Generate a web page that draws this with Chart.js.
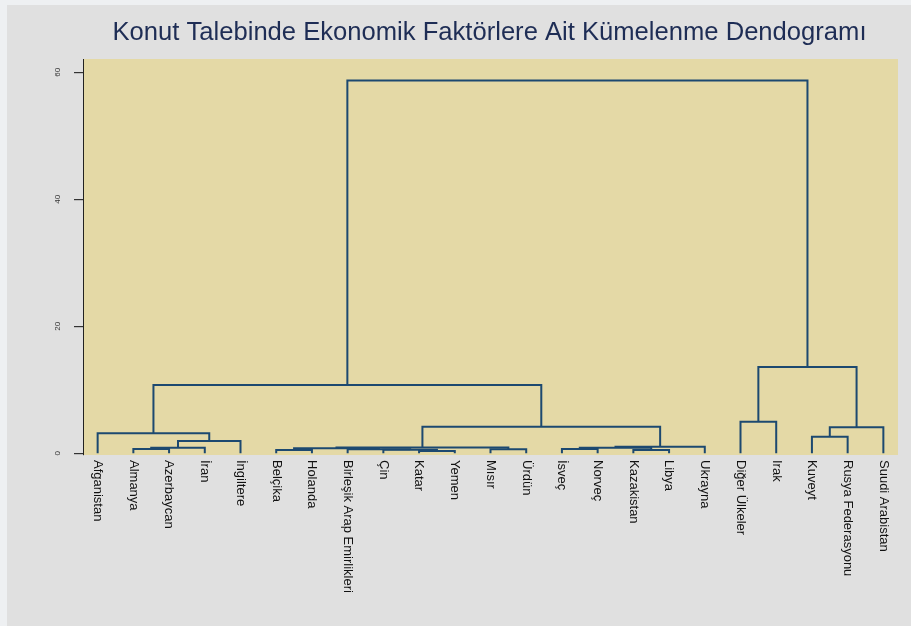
<!DOCTYPE html>
<html>
<head>
<meta charset="utf-8">
<title>Kümelenme Dendogramı</title>
<script src="https://cdn.jsdelivr.net/npm/chart.js@4.4.1/dist/chart.umd.min.js"></script>
<style>
  html, body { margin: 0; padding: 0; background: #eef0f2; }
  #wrap { width: 911px; height: 626px; position: relative; }
</style>
</head>
<body>
<div id="wrap"><canvas id="chart"></canvas></div>
<script>
const chartTitle = "Konut Talebinde Ekonomik Faktörlere Ait Kümelenme Dendogramı";

// leaves in the order they appear on the x axis
const countries = [
  "Afganistan", "Almanya", "Azerbaycan", "İran", "İngiltere",
  "Belçika", "Holanda", "Birleşik Arap Emirlikleri", "Çin", "Katar",
  "Yemen", "Mısır", "Ürdün", "İsveç", "Norveç",
  "Kazakistan", "Libya", "Ukrayna", "Diğer Ülkeler", "Irak",
  "Kuveyt", "Rusya Federasyonu", "Suudi Arabistan"
];

// linkage: ids < 23 are leaves, merge k creates id 23 + k
const mergeLeft   = [9, 5, 15, 8, 11, 7, 1, 13, 24, 29, 30, 31, 33, 32, 20, 0, 37, 34, 18, 38, 41, 42];
const mergeRight  = [10, 6, 16, 23, 12, 26, 2, 14, 28, 3, 25, 27, 17, 4, 21, 36, 22, 35, 19, 40, 39, 43];
const mergeHeight = [0.36, 0.52, 0.52, 0.57, 0.62, 0.65, 0.68, 0.68, 0.79, 0.88, 0.88, 0.91, 1.04, 1.94,
                     2.62, 3.15, 4.09, 4.19, 4.98, 10.76, 13.6, 58.7];

const yTicks = [0, 20, 40, 60];

const lineColor = "#1c4970";

// node positions from the linkage
const nodeX = countries.map((c, i) => i);
const nodeH = countries.map(() => 0);
const datasets = [];
mergeLeft.forEach((a, k) => {
  const b = mergeRight[k];
  const h = mergeHeight[k];
  datasets.push({
    data: [
      { x: nodeX[a], y: nodeH[a] },
      { x: nodeX[a], y: h },
      { x: nodeX[b], y: h },
      { x: nodeX[b], y: nodeH[b] }
    ],
    showLine: true,
    borderColor: lineColor,
    borderWidth: 2,
    pointRadius: 0,
    fill: false,
    tension: 0
  });
  nodeX.push((nodeX[a] + nodeX[b]) / 2);
  nodeH.push(h);
});

const backdrop = {
  id: "backdrop",
  beforeDraw(chart) {
    const { ctx, chartArea } = chart;
    ctx.save();
    ctx.fillStyle = "#eef0f2";
    ctx.fillRect(0, 0, chart.width, chart.height);
    ctx.fillStyle = "#e0e0e0";
    ctx.fillRect(7, 5, chart.width - 7, chart.height - 5);
    ctx.fillStyle = "#e4d9a6";
    ctx.fillRect(chartArea.left, chartArea.top, chartArea.right - chartArea.left, chartArea.bottom - chartArea.top);
    ctx.restore();
  },
  afterDraw(chart) {
    const { ctx, chartArea } = chart;
    const xs = chart.scales.x;
    ctx.save();
    ctx.fillStyle = "#1e2d55";
    ctx.font = '25.6px "Liberation Sans", Arial, sans-serif';
    ctx.textAlign = "center";
    ctx.textBaseline = "alphabetic";
    ctx.fillText(chartTitle, (chartArea.left + chartArea.right) / 2 - 1, 40);

    ctx.fillStyle = "#111";
    ctx.font = '13px "Liberation Sans", Arial, sans-serif';
    ctx.textAlign = "left";
    ctx.textBaseline = "middle";
    countries.forEach((name, i) => {
      ctx.save();
      ctx.translate(xs.getPixelForValue(i), chartArea.bottom + 5);
      ctx.rotate(Math.PI / 2);
      ctx.fillText(name, 0, 0);
      ctx.restore();
    });
    ctx.restore();
  }
};

new Chart(document.getElementById("chart"), {
  type: "scatter",
  data: { datasets: datasets },
  plugins: [backdrop],
  options: {
    responsive: true,
    maintainAspectRatio: false,
    animation: false,
    layout: { padding: { left: 0, top: 59, right: 13, bottom: 171 } },
    plugins: {
      legend: { display: false },
      tooltip: { enabled: false },
      title: { display: false }
    },
    scales: {
      x: {
        type: "linear",
        display: false,
        min: -0.41,
        max: countries.length - 1 + 0.41
      },
      y: {
        type: "linear",
        min: -0.27,
        max: 62.1,
        afterFit(scale) { scale.width = 83; },
        afterBuildTicks(scale) { scale.ticks = yTicks.map(v => ({ value: v })); },
        border: { display: true, color: "#222", width: 1 },
        grid: { drawOnChartArea: false, tickLength: 9, color: "#333", lineWidth: 1.2 },
        ticks: {
          minRotation: 90,
          maxRotation: 90,
          crossAlign: "center",
          padding: 12,
          color: "#333",
          font: { family: '"Liberation Sans", Arial, sans-serif', size: 8 }
        }
      }
    }
  }
});
</script>
</body>
</html>
